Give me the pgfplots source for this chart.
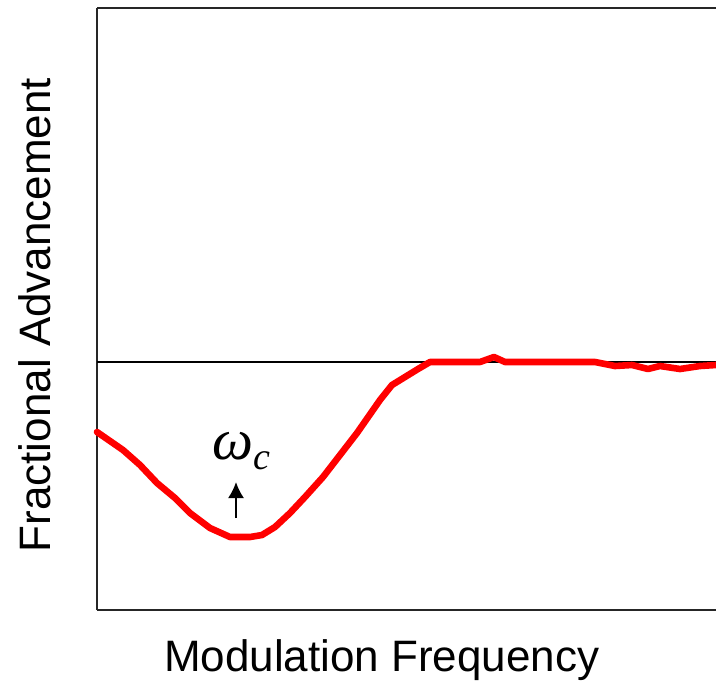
\documentclass[border=0pt]{standalone}
\usepackage{pgfplots}
\pgfplotsset{compat=1.18}
\usepackage{fontspec}
\setmainfont{Liberation Sans}
\newfontfamily\timesfont{Liberation Serif}
\usetikzlibrary{arrows.meta}
\begin{document}
\begin{tikzpicture}
\path[use as bounding box] (0,0) rectangle (358pt,341pt);
\begin{axis}[
  at={(48.5pt,36pt)}, anchor=south west,
  scale only axis, width=309.5pt, height=301pt,
  xmin=0, xmax=619, ymin=-248, ymax=354,
  axis x line*=bottom, axis y line*=left,
  axis line style={line width=1.1pt, black!85},
  xtick=\empty, ytick=\empty,
  clip=false,
  xlabel={Modulation Frequency},
  ylabel={Fractional Advancement},
  every axis x label/.style={at={(axis description cs:0.46,-0.083)}, anchor=center, font=\fontsize{22}{26}\selectfont},
  every axis y label/.style={at={(axis description cs:-0.1,0.49)}, anchor=center, rotate=90, font=\fontsize{22}{26}\selectfont},
]
\draw[line width=1.1pt, black!85] (rel axis cs:0,1) -- (rel axis cs:1,1);
\addplot[black, line width=0.8pt] coordinates {(0,0) (619,0)};
\addplot[red, line width=3.3pt, line join=round, line cap=round] coordinates {
(0,-70) (26,-88) (43,-103) (60,-121) (78,-136) (93,-151) (113,-166) (133,-175)
(153,-175) (165,-173) (178,-165) (193,-151) (208,-135) (226,-115) (243,-93)
(260,-71) (283,-38) (295,-23) (308,-15) (321,-7) (333,0) (383,0) (397,5)
(408,0) (498,0) (518,-4) (535,-3) (551,-7) (563,-4) (583,-7) (603,-4) (619,-3)
};
\draw[line width=1pt, -{Latex[length=8pt,width=8pt]}] (axis cs:139,-156) -- (axis cs:139,-120);
\node[anchor=center, inner sep=0pt] at (axis cs:144,-89) {\timesfont\itshape\fontsize{29}{29}\selectfont ω\raisebox{-5pt}{\fontsize{19}{19}\selectfont c}};
\end{axis}
\end{tikzpicture}
\end{document}
